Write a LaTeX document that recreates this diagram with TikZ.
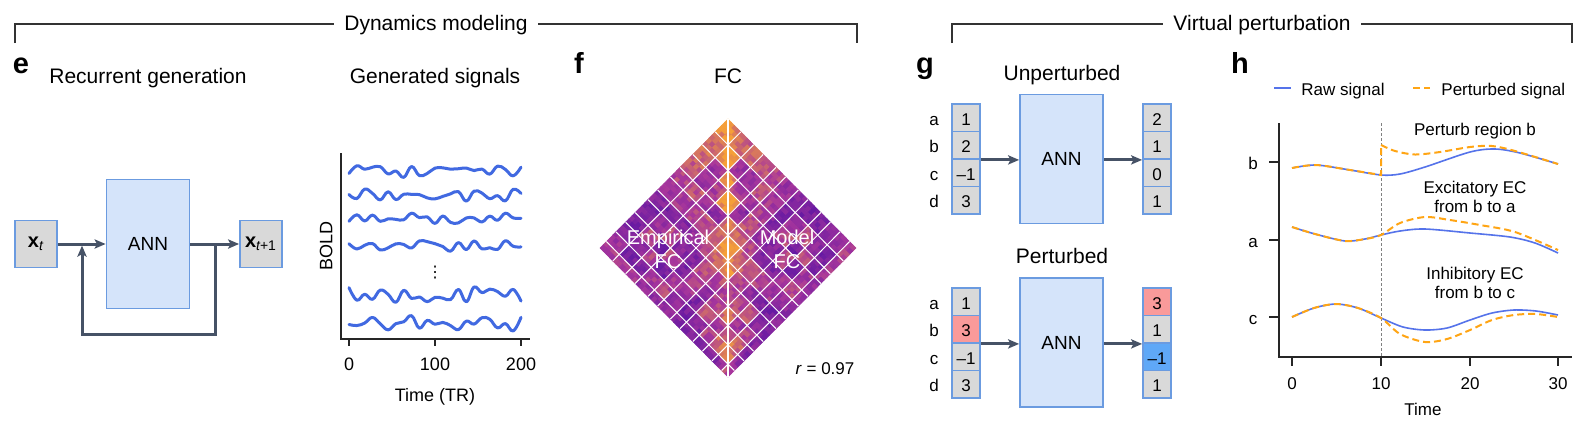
\documentclass[tikz,border=0pt]{standalone}
\usepackage{fontspec}
\setmainfont{Liberation Sans}
\newfontfamily\symfont{DejaVu Sans}
\usetikzlibrary{arrows.meta,positioning,calc}
\definecolor{slate}{HTML}{465266}
\definecolor{annblue}{HTML}{D5E4FA}
\definecolor{edgeblue}{HTML}{6B9BE0}
\definecolor{cellgray}{HTML}{D9D9D9}
\definecolor{cellred}{HTML}{F99A9A}
\definecolor{cellblue}{HTML}{5FA8F7}
\definecolor{sigblue}{HTML}{4169E1}
\definecolor{rawblue}{HTML}{5573EA}
\definecolor{pertorange}{HTML}{FFA514}
\definecolor{fcdeep}{HTML}{5A14A4}
\definecolor{fcmid}{HTML}{A8369C}
\definecolor{fchot}{HTML}{F6A137}
\tikzset{
  >={Stealth[length=5.5pt,width=4.6pt,inset=1.2pt]},
  hdr/.style={draw=black!80, line width=0.8pt},
  hdrtxt/.style={fill=white, inner xsep=5pt, inner ysep=1pt, text height=1.4ex,
    text depth=0pt, font=\fontsize{10.5}{12.6}\selectfont},
  plab/.style={anchor=base, font=\fontsize{14.5}{16}\selectfont\bfseries},
  ttl/.style={anchor=base, font=\fontsize{10.5}{12.6}\selectfont},
  ticklab/.style={text height=1.4ex, text depth=0pt, inner sep=1pt,
    font=\fontsize{9}{10.8}\selectfont},
  hsmall/.style={text height=1.4ex, text depth=0pt, inner sep=1pt,
    font=\fontsize{8.5}{10}\selectfont},
  hnote/.style={align=center, font=\fontsize{8.5}{9.8}\selectfont},
  annbox/.style={draw=edgeblue, fill=annblue, line width=0.9pt, minimum width=41.5pt,
    minimum height=64.5pt, inner sep=0pt, font=\fontsize{9.5}{11}\selectfont},
  vecbox/.style={draw=edgeblue, fill=cellgray, line width=0.9pt, minimum width=21pt,
    minimum height=23.5pt, inner sep=0pt, font=\fontsize{10}{11}\selectfont},
  cell/.style={draw=edgeblue, fill=cellgray, line width=0.9pt, minimum width=14pt,
    minimum height=13.75pt, inner sep=0pt, text height=1.4ex, text depth=0pt,
    font=\fontsize{8.5}{10}\selectfont},
  rowlab/.style={text height=1.4ex, text depth=0pt, inner sep=0pt,
    font=\fontsize{8.5}{10}\selectfont},
  flow/.style={draw=slate, line width=1.5pt, ->},
  axln/.style={draw=black!85, line width=0.75pt},
  sig/.style={draw=sigblue, line width=1.5pt, line join=round, line cap=round},
  raw/.style={draw=rawblue, line width=0.8pt},
  pert/.style={draw=pertorange, line width=1pt, dash pattern=on 3.5pt off 2pt},
  fclab/.style={text=white, align=center, font=\fontsize{10}{12}\selectfont}
}
% network index of each row/column of the FC matrix
\def\fcblk{{0,0,0,0,1,1,1,1,2,2,2,3,3,3,3,4,4,4,5,5,5,5,6,6,6,7,7,7,7,8,8,8,9,9,9,10,10,10,11,11}}

\begin{document}
\begin{tikzpicture}[x=0.5pt, y=-0.5pt]
  \useasboundingbox (0,0) rectangle (1593,441);
  \fill[white] (0,0) rectangle (1593,441);

  % section headers
  \draw[hdr] (15,43) -- (15,24) -- (857,24) -- (857,43);
  \node[hdrtxt] (hdyn) at (436,23) {Dynamics modeling};
  \draw[hdr] (952,43) -- (952,24) -- (1572,24) -- (1572,43);
  \node[hdrtxt] (hvir) at (1262,23) {Virtual perturbation};

  % e
  \node[plab] (labe) at (21,73) {e};
  \node[ttl] (trec) at (148,83) {Recurrent generation};
  \node[ttl] (tgen) at (435,83) {Generated signals};
  \node[vecbox] (xt) at (36,244) {{\bfseries x}\textsubscript{\itshape t}};
  \node[annbox] (anne) at (148,244) {ANN};
  \node[vecbox] (xn) at (261,244) {{\bfseries x}\textsubscript{{\itshape t}+1}};
  \draw[flow] (xt) -- (anne);
  \draw[flow] (anne) -- (xn);
  \coordinate (fbo) at (215,244);
  \coordinate (fbi) at (82,244);
  \draw[flow, shorten >=0.8pt] (fbo) -- ++(0,90) -| (fbi);

  \draw[axln] (341,153) -- (341,339) -- (530,339);
  \foreach \xx/\lb in {349/0,435/100,521/200}{
    \draw[axln] (\xx,339) -- (\xx,346);
    \node[ticklab] (gx\lb) at (\xx,363) {\lb};
  }
  \node[ticklab, rotate=90] (bold) at (325,246) {BOLD};
  \node[ticklab] (ttr) at (435,394) {Time (TR)};
  \pgfmathsetseed{11}
  \foreach \yy in {170,195,220,245,295,323}{
    \draw[sig] plot[smooth, tension=0.7, samples=23, domain=349:521]
      (\x, {\yy+5.5*rand+3.5*sin(26*(\x-349)+7*\yy)});
  }
  \node[inner sep=0pt, font=\symfont\fontsize{8}{8}\selectfont] (vd) at (435,273) {⋮};

  % f
  \node[plab] (labf) at (579,73) {f};
  \node[ttl] (tfc) at (728,83) {FC};
  \pgfmathsetseed{5}
  \begin{scope}[shift={(728,119)}, x={(1.6pt,-1.6125pt)}, y={(-1.6pt,-1.6125pt)}]
    \foreach \ri in {0,...,39}{
      \foreach \cj in {0,...,39}{
        \pgfmathtruncatemacro\bi{\fcblk[\ri]}
        \pgfmathtruncatemacro\bj{\fcblk[\cj]}
        \pgfmathsetmacro\fv{0.35+0.2*sin(61*\bi*\bj+37*(\bi+\bj))+0.16*(\bi==\bj)+0.3*exp(-abs(\ri-\cj)/5)+0.22*exp(-(\ri+\cj)/20)+0.12*rand}
        \pgfmathtruncatemacro\fp{100*max(0,min(0.99,\fv))}
        \ifnum\fp<50
          \pgfmathtruncatemacro\fq{2*\fp}\colorlet{fccell}{fcmid!\fq!fcdeep}
        \else
          \pgfmathtruncatemacro\fq{2*\fp-100}\colorlet{fccell}{fchot!\fq!fcmid}
        \fi
        \filldraw[fccell, line width=0.3pt] (\cj,\ri) -- ++(1,0) -- ++(0,1) -- ++(-1,0) -- cycle;
      }
    }
    \foreach \bd in {4,8,11,15,18,22,25,29,32,35,38}{
      \draw[white, line width=0.5pt] (\bd,0) -- (\bd,40) (0,\bd) -- (40,\bd);
    }
    \draw[white, line width=1.2pt] (0,0) -- (40,40);
  \end{scope}
  \node[fclab] (emp) at (668,249) {Empirical\\FC};
  \node[fclab] (mdl) at (787,249) {Model\\FC};
  \node[hsmall] (rval) at (825,367) {\textit{r} = 0.97};

  % g
  \node[plab] (labg) at (925,73) {g};
  \node[ttl] (tunp) at (1062,80) {Unperturbed};
  \node[ttl] (tper) at (1062,263) {Perturbed};
  \foreach \lab/\vin/\cin/\vout/\cout [count=\k] in
    {a/1/cellgray/2/cellgray, b/2/cellgray/1/cellgray, c/–1/cellgray/0/cellgray, d/3/cellgray/1/cellgray}{
    \node[rowlab] (ul\k) at (934,90.25+27.5*\k) {\lab};
    \node[cell, fill=\cin] (ui\k) at (966,90.25+27.5*\k) {\vin};
    \node[cell, fill=\cout] (uo\k) at (1157,90.25+27.5*\k) {\vout};
  }
  \foreach \lab/\vin/\cin/\vout/\cout [count=\k] in
    {a/1/cellgray/3/cellred, b/3/cellred/1/cellgray, c/–1/cellgray/–1/cellblue, d/3/cellgray/1/cellgray}{
    \node[rowlab] (pl\k) at (934,274.25+27.5*\k) {\lab};
    \node[cell, fill=\cin] (pi\k) at (966,274.25+27.5*\k) {\vin};
    \node[cell, fill=\cout] (po\k) at (1157,274.25+27.5*\k) {\vout};
  }
  \node[annbox] (annu) at (1061.5,159) {ANN};
  \node[annbox] (annp) at (1061.5,342.5) {ANN};
  \draw[flow] (ui2.south east) -- (annu.west |- ui2.south east);
  \draw[flow] (annu.east |- uo2.south west) -- (uo2.south west);
  \draw[flow] (pi2.south east) -- (annp.west |- pi2.south east);
  \draw[flow] (annp.east |- po2.south west) -- (po2.south west);

  % h
  \node[plab] (labh) at (1240,73) {h};
  \coordinate (lgr) at (1274,88);
  \draw[raw, line width=1pt] (lgr) -- ++(17,0);
  \node[hsmall, anchor=west] (lraw) at (1299,88) {Raw signal};
  \coordinate (lgp) at (1413,88);
  \draw[pert] (lgp) -- ++(17,0);
  \node[hsmall, anchor=west] (lper) at (1439,88) {Perturbed signal};

  \draw[axln] (1279,123) -- (1279,357) -- (1572,357);
  \foreach \xx/\lb in {1292/0,1381/10,1470/20,1558/30}{
    \draw[axln] (\xx,357) -- (\xx,366);
    \node[hsmall] (hx\lb) at (\xx,382) {\lb};
  }
  \foreach \yy/\lb in {162/b,240/a,317/c}{
    \draw[axln] (1269,\yy) -- (1279,\yy);
    \node[hsmall] (hy\lb) at (1253,\yy) {\lb};
  }
  \node[hsmall] (htime) at (1423,408) {Time};
  \draw[gray, line width=0.4pt, dash pattern=on 1.5pt off 1pt] (1381,123) -- (1381,357);

  \draw[raw] plot[smooth] coordinates {(1292,168) (1316,165) (1350,170) (1381,175) (1400,174)
    (1425,167) (1470,152) (1495,149) (1520,153) (1558,164)};
  \draw[pert] plot[smooth] coordinates {(1292,168) (1316,165) (1350,170) (1381,175)}
    -- (1381,145) plot[smooth] coordinates {(1381,145) (1395,151) (1415,154.5) (1440,152)
    (1470,147) (1492,146) (1515,151) (1558,164)};
  \draw[raw] plot[smooth] coordinates {(1292,227) (1315,234) (1345,241) (1365,239) (1381,235)
    (1400,231) (1425,229) (1470,233) (1510,237) (1535,243) (1558,253)};
  \draw[pert] plot[smooth] coordinates {(1292,227) (1315,234) (1345,241) (1365,239) (1381,235)
    (1400,223) (1425,217) (1450,220) (1480,225) (1515,232) (1558,250)};
  \draw[raw] plot[smooth] coordinates {(1292,317) (1314,308) (1336,304) (1358,308) (1381,318)
    (1403,327) (1425,330) (1447,328) (1470,320) (1492,313) (1514,310) (1536,311) (1558,315)};
  \draw[pert] plot[smooth] coordinates {(1292,317) (1314,308) (1336,304) (1358,308) (1381,318)
    (1400,334) (1425,342) (1447,339) (1470,330) (1492,320) (1514,315) (1536,314) (1558,317)};
  \node[hsmall] (tpb) at (1475,128) {Perturb region b};
  \node[hnote] (texc) at (1475,197) {Excitatory EC\\from b to a};
  \node[hnote] (tinh) at (1475,283) {Inhibitory EC\\from b to c};
\end{tikzpicture}
\end{document}
